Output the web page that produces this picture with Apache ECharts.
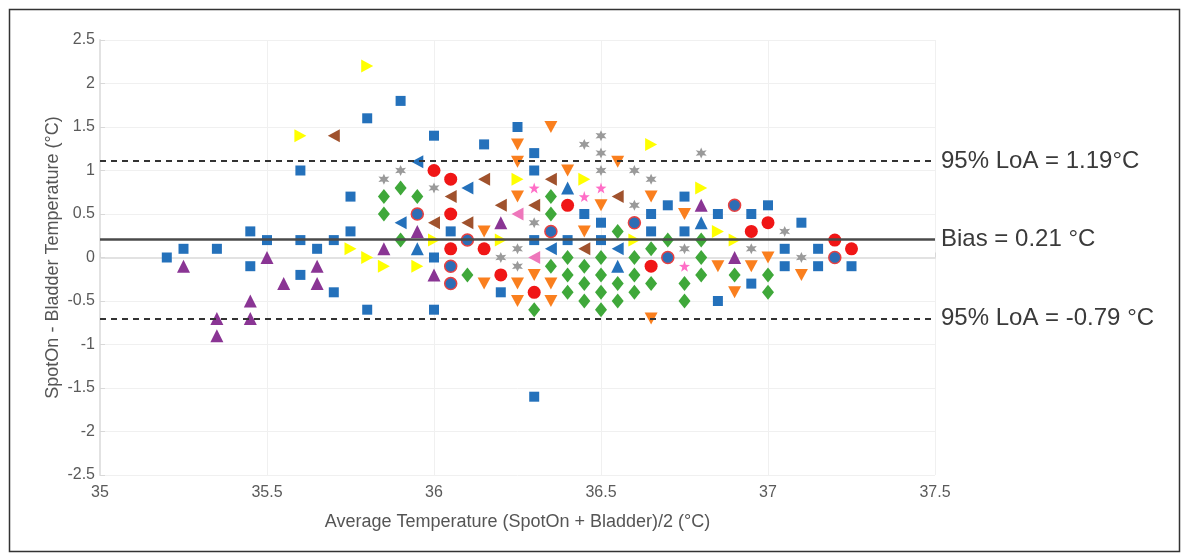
<!DOCTYPE html>
<html>
<head>
<meta charset="utf-8">
<script src="https://cdn.jsdelivr.net/npm/echarts@6/dist/echarts.min.js"></script>
<style>
  html, body { margin: 0; padding: 0; background: #fff; }
  #chart { width: 1184px; height: 556px; }
</style>
</head>
<body>
<div id="chart"></div>
<script>
// Bland-Altman: SpotOn vs Bladder, points as [mean, difference]
var blueSquares = [[35.2,0],[35.25,0.1],[35.35,0.1],[35.45,0.3],[35.45,-0.1],[35.5,0.2],[35.6,1.0],[35.6,0.2],[35.6,-0.2],
  [35.65,0.1],[35.7,0.2],[35.7,-0.4],[35.75,0.7],[35.75,0.3],[35.8,1.6],[35.8,-0.6],[35.9,1.8],[36.0,1.4],[36.0,0],
  [36.0,-0.6],[36.05,0.3],[36.15,1.3],[36.2,-0.4],[36.25,1.5],[36.3,1.2],[36.3,1.0],[36.3,0.2],[36.3,-1.6],[36.4,0.2],
  [36.45,0.5],[36.5,0.4],[36.5,0.2],[36.65,0.5],[36.65,0.3],[36.7,0.6],[36.75,0.7],[36.75,0.3],[36.85,0.5],[36.85,-0.5],
  [36.95,0.5],[36.95,-0.3],[37.0,0.6],[37.05,0.1],[37.05,-0.1],[37.1,0.4],[37.15,0.1],[37.15,-0.1],[37.25,-0.1]];
var purpleUp = [[35.25,-0.1],[35.35,-0.7],[35.35,-0.9],[35.45,-0.5],[35.45,-0.7],[35.5,0],[35.55,-0.3],[35.65,-0.1],
  [35.65,-0.3],[35.85,0.1],[35.95,0.3],[36.0,-0.2],[36.2,0.4],[36.8,0.6],[36.9,0]];
var blueUp = [[35.95,0.1],[36.4,0.8],[36.55,-0.1],[36.8,0.4]];
var yellowRight = [[35.6,1.4],[35.75,0.1],[35.8,2.2],[35.8,0],[35.85,-0.1],[35.95,-0.1],[36.0,0.2],[36.2,0.2],[36.25,0.9],
  [36.45,0.9],[36.6,0.2],[36.65,1.3],[36.8,0.8],[36.85,0.3],[36.9,0.2]];
var brownLeft = [[35.7,1.4],[36.0,0.4],[36.05,0.7],[36.1,0.4],[36.15,0.9],[36.2,0.6],[36.3,0.6],[36.35,0.9],[36.45,0.1],[36.55,0.7]];
var blueLeft = [[35.9,0.4],[35.95,1.1],[36.1,0.8],[36.35,0.1],[36.55,0.1]];
var greenDiamonds = [[35.85,0.7],[35.85,0.5],[35.9,0.8],[35.9,0.2],[35.95,0.7],[36.1,-0.2],[36.3,-0.6],[36.35,0.7],
  [36.35,0.5],[36.35,-0.1],[36.4,0],[36.4,-0.2],[36.4,-0.4],[36.45,-0.1],[36.45,-0.3],[36.45,-0.5],[36.5,0],[36.5,-0.2],
  [36.5,-0.4],[36.5,-0.6],[36.55,0.3],[36.55,-0.3],[36.55,-0.5],[36.6,0],[36.6,-0.2],[36.6,-0.4],[36.65,0.1],[36.65,-0.3],
  [36.7,0.2],[36.75,-0.3],[36.75,-0.5],[36.8,0.2],[36.8,0],[36.8,-0.2],[36.9,-0.2],[37.0,-0.2],[37.0,-0.4]];
var redCircles = [[36.0,1.0],[36.05,0.9],[36.05,0.5],[36.05,0.1],[36.15,0.1],[36.2,-0.2],[36.3,-0.4],[36.4,0.6],
  [36.65,-0.1],[36.95,0.3],[37.0,0.4],[37.2,0.2],[37.25,0.1]];
var blueCircles = [[35.95,0.5],[36.05,-0.1],[36.05,-0.3],[36.1,0.2],[36.35,0.3],[36.6,0.4],[36.7,0],[36.9,0.6],[37.2,0]];
var orangeDown = [[36.15,0.3],[36.15,-0.3],[36.25,1.3],[36.25,1.1],[36.25,0.7],[36.25,-0.3],[36.25,-0.5],[36.3,-0.2],
  [36.35,1.5],[36.35,-0.3],[36.35,-0.5],[36.4,1.0],[36.45,0.3],[36.5,0.6],[36.55,1.1],[36.65,0.7],[36.65,-0.7],
  [36.75,0.5],[36.85,-0.1],[36.9,-0.4],[36.95,-0.1],[37.0,0],[37.1,-0.2]];
var greyStars = [[35.85,0.9],[35.9,1.0],[36.0,0.8],[36.2,0],[36.25,0.1],[36.25,-0.1],[36.3,0.4],[36.45,1.3],[36.5,1.4],
  [36.5,1.2],[36.5,1.0],[36.6,1.0],[36.6,0.6],[36.65,0.9],[36.75,0.1],[36.8,1.2],[36.95,0.1],[37.05,0.3],[37.1,0]];
var pinkStars = [[36.3,0.8],[36.45,0.7],[36.5,0.8],[36.75,-0.1]];
var pinkLeft = [[36.25,0.5],[36.3,0]];

// reference lines as drawn (value, label)
var refLines = [[1.11, '95% LoA = 1.19°C', 'dashed'], [0.21, 'Bias = 0.21 °C', 'solid'], [-0.70, '95% LoA = -0.79 °C', 'dashed']];

var RIGHT = 'path://M0,0L10,5L0,10Z';
var LEFT = 'path://M10,0L0,5L10,10Z';
var DOWN = 'path://M0,0L10,0L5,9Z';
var STAR6 = 'path://M5,0L6.2,3L9.3,2.5L7.4,5L9.3,7.5L6.2,7L5,10L3.8,7L0.7,7.5L2.6,5L0.7,2.5L3.8,3Z';
var STAR5 = 'path://M5,0L6.2,3.6L10,3.7L7,6L8.1,9.6L5,7.5L1.9,9.6L3,6L0,3.7L3.8,3.6Z';

function sc(name, data, symbol, size, color, border) {
  return {
    name: name, type: 'scatter', data: data,
    symbol: symbol, symbolSize: size,
    itemStyle: { color: color, borderColor: border || color, borderWidth: border ? 1.5 : 0, opacity: 1 }
  };
}

var myChart = echarts.init(document.getElementById('chart'));

var series = [
  sc('blueSquares', blueSquares, 'rect', 10, '#2471bb'),
  sc('purpleUp', purpleUp, 'triangle', 13, '#8a3594'),
  sc('blueUp', blueUp, 'triangle', 13, '#2471bb'),
  sc('yellowRight', yellowRight, RIGHT, [12, 13], '#ffff00'),
  sc('brownLeft', brownLeft, LEFT, [12, 13], '#a0522d'),
  sc('blueLeft', blueLeft, LEFT, [12, 13], '#2471bb'),
  sc('greenDiamonds', greenDiamonds, 'diamond', [12, 15], '#3fa83a'),
  sc('redCircles', redCircles, 'circle', 13, '#f01616'),
  sc('blueCircles', blueCircles, 'circle', 12, '#2d6db5', '#e84040'),
  sc('orangeDown', orangeDown, DOWN, [13, 12], '#fa7f1e'),
  sc('greyStars', greyStars, STAR6, 11, '#9a9a9a'),
  sc('pinkStars', pinkStars, STAR5, 11, '#ff6ec7'),
  sc('pinkLeft', pinkLeft, LEFT, [12, 13], '#ee77bb')
];

series.push({
  name: 'ref', type: 'scatter', data: [], silent: true,
  markLine: {
    silent: true, symbol: ['none', 'none'], animation: false,
    data: refLines.map(function (r) {
      return {
        yAxis: r[0],
        lineStyle: { color: r[2] === 'solid' ? '#4a4a4a' : '#333', width: r[2] === 'solid' ? 2.5 : 2, type: r[2] === 'solid' ? 'solid' : [6, 5] },
        label: { show: true, position: 'end', distance: 6, formatter: r[1], color: '#3a3a3a', fontSize: 24, fontFamily: 'Liberation Sans' }
      };
    })
  },
  z: 5
});

var option = {
  animation: false,
  backgroundColor: '#fff',
  textStyle: { fontFamily: 'Liberation Sans' },
  graphic: [{
    type: 'rect', left: 7, top: 7, shape: { width: 1170, height: 542 },
    style: { fill: 'none', stroke: '#333', lineWidth: 1.5 }, silent: true
  }],
  grid: { left: 100, right: 249, top: 40, bottom: 81 },
  xAxis: {
    type: 'value', min: 35, max: 37.5, interval: 0.5,
    name: 'Average Temperature (SpotOn + Bladder)/2 (°C)',
    nameLocation: 'middle', nameGap: 38,
    nameTextStyle: { color: '#555', fontSize: 18 },
    axisLine: { show: true, lineStyle: { color: '#e2e2e2', width: 2 } },
    axisTick: { show: true, inside: true, length: 5, lineStyle: { color: '#d8d8d8' } },
    axisLabel: { color: '#5a5a5a', fontSize: 16, margin: 10 },
    splitLine: { show: true, lineStyle: { color: '#f0f0f0', width: 1 } }
  },
  yAxis: {
    type: 'value', min: -2.5, max: 2.5, interval: 0.5,
    name: 'SpotOn - Bladder Temperature (°C)',
    nameLocation: 'middle', nameGap: 38, nameMoveOverlap: false,
    nameTextStyle: { color: '#555', fontSize: 18 },
    axisLine: { show: true, lineStyle: { color: '#e2e2e2', width: 2 } },
    axisTick: { show: true, inside: true, length: 5, lineStyle: { color: '#d8d8d8' } },
    axisLabel: { color: '#5a5a5a', fontSize: 16, margin: 5 },
    splitLine: { show: true, lineStyle: { color: '#f0f0f0', width: 1 } }
  },
  series: series
};

myChart.setOption(option);
</script>
</body>
</html>
